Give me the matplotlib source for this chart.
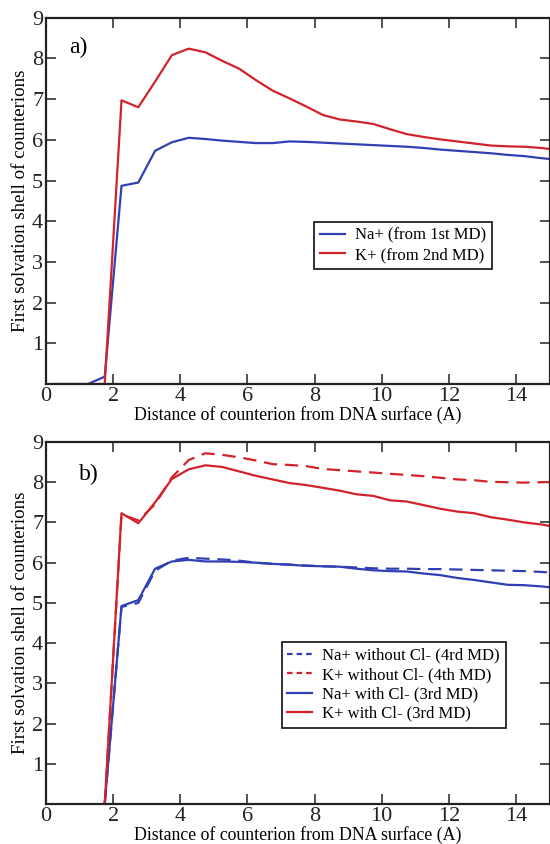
import matplotlib
matplotlib.use("Agg")
import matplotlib.pyplot as plt
import numpy as np

# Distance grid (A), 0.5 A bins
dist_a = [0.25, 0.75, 1.25, 1.75, 2.25, 2.75, 3.25, 3.75, 4.25, 4.75,
          5.25, 5.75, 6.25, 6.75, 7.25, 7.75, 8.25, 8.75, 9.25, 9.75,
          10.25, 10.75, 11.25, 11.75, 12.25, 12.75, 13.25, 13.75, 14.25, 14.75, 15.25]
na_1st = [0.0, 0.0, 0.0, 0.18, 4.87, 4.95, 5.73, 5.94, 6.05, 6.02,
          5.98, 5.95, 5.92, 5.92, 5.96, 5.95, 5.93, 5.91, 5.89, 5.87,
          5.85, 5.83, 5.80, 5.76, 5.73, 5.70, 5.67, 5.63, 5.60, 5.55, 5.51]
k_2nd = [0.0, 0.0, 0.0, 0.0, 6.97, 6.80, 7.43, 8.08, 8.24, 8.15,
         7.94, 7.75, 7.47, 7.21, 7.02, 6.82, 6.61, 6.50, 6.45, 6.39,
         6.26, 6.14, 6.07, 6.01, 5.96, 5.91, 5.86, 5.84, 5.83, 5.80, 5.75]

dist_b = [1.75, 2.25, 2.75, 3.25, 3.75, 4.25, 4.75, 5.25, 5.75, 6.25,
          6.75, 7.25, 7.75, 8.25, 8.75, 9.25, 9.75, 10.25, 10.75, 11.25,
          11.75, 12.25, 12.75, 13.25, 13.75, 14.25, 14.75, 15.25]
na_no_cl = [0.0, 4.90, 5.00, 5.80, 6.05, 6.12, 6.10, 6.08, 6.05, 6.00,
            5.97, 5.95, 5.93, 5.91, 5.90, 5.88, 5.86, 5.85, 5.85, 5.84,
            5.84, 5.83, 5.82, 5.81, 5.80, 5.79, 5.77, 5.74]
k_no_cl = [0.0, 7.20, 7.05, 7.45, 8.12, 8.55, 8.72, 8.68, 8.62, 8.54,
           8.45, 8.43, 8.40, 8.33, 8.30, 8.27, 8.24, 8.21, 8.18, 8.15,
           8.11, 8.07, 8.05, 8.01, 8.00, 7.99, 8.00, 8.01]
na_cl = [0.0, 4.92, 5.07, 5.85, 6.03, 6.07, 6.03, 6.03, 6.02, 6.00,
         5.97, 5.95, 5.92, 5.91, 5.90, 5.85, 5.81, 5.79, 5.78, 5.73,
         5.69, 5.62, 5.57, 5.51, 5.45, 5.44, 5.41, 5.37]
k_cl = [0.0, 7.23, 6.98, 7.50, 8.08, 8.32, 8.42, 8.38, 8.27, 8.16,
        8.07, 7.98, 7.93, 7.86, 7.79, 7.70, 7.66, 7.55, 7.52, 7.43,
        7.34, 7.27, 7.23, 7.13, 7.07, 7.00, 6.95, 6.88]

xticks = [0, 2, 4, 6, 8, 10, 12, 14]
yticks = [1, 2, 3, 4, 5, 6, 7, 8, 9]

BLUE = "#3040b4"
RED = "#d2232a"
DASH = (6, 3.5)

plt.rcParams["font.family"] = ["Liberation Serif", "DejaVu Serif"]

fig = plt.figure(figsize=(5.5, 8.44), dpi=100)
ax_a = fig.add_axes([0.0836, 0.545, 0.9155, 0.434])
ax_b = fig.add_axes([0.0836, 0.0474, 0.9155, 0.4289])


def style_axes(ax, tag, tag_xy):
    ax.set_xlim(0, 15)
    ax.set_ylim(0, 9)
    ax.set_xticks(xticks)
    ax.set_yticks(yticks)
    ax.tick_params(direction="in", length=7, width=1.1, top=True, right=True,
                   labelsize=16, pad=2, colors="#222222")
    for sp in ax.spines.values():
        sp.set_linewidth(1.6)
        sp.set_color("#222222")
    ax.set_xlabel("Distance of counterion from DNA surface (A)", fontsize=12.8, labelpad=0)
    ax.set_ylabel("First solvation shell of counterions", fontsize=13.6, labelpad=2)
    ax.text(tag_xy[0], tag_xy[1], tag, fontsize=17, ha="left", va="center")


# a) Na+ vs K+ from separate runs
ax_a.plot(dist_a, na_1st, color=BLUE, lw=1.6, label="Na+ (from 1st MD)")
ax_a.plot(dist_a, k_2nd, color=RED, lw=1.6, label="K+ (from 2nd MD)")
style_axes(ax_a, "a)", (0.68, 8.27))
ax_a.legend(loc="upper left", bbox_to_anchor=(0.532, 0.443), borderaxespad=0,
            fontsize=12, handlelength=1.5, handletextpad=0.6, fancybox=False,
            edgecolor="#222222", framealpha=1, borderpad=0.35, labelspacing=0.2)
ax_a.get_legend().get_frame().set_linewidth(1.3)

# b) with / without Cl- counterions
ax_b.plot(dist_b, na_no_cl, color=BLUE, lw=1.6, dashes=DASH, label="Na+ without Cl- (4rd MD)")
ax_b.plot(dist_b, k_no_cl, color=RED, lw=1.6, dashes=DASH, label="K+ without Cl- (4th MD)")
ax_b.plot(dist_b, na_cl, color=BLUE, lw=1.6, label="Na+ with Cl- (3rd MD)")
ax_b.plot(dist_b, k_cl, color=RED, lw=1.6, label="K+ with Cl- (3rd MD)")
style_axes(ax_b, "b)", (0.98, 8.2))
leg = ax_b.legend(loc="upper left", bbox_to_anchor=(0.468, 0.4475), borderaxespad=0,
                  fontsize=12, handlelength=1.5, handletextpad=0.6, fancybox=False,
                  edgecolor="#222222", framealpha=1, borderpad=0.35, labelspacing=0.2)
leg.get_frame().set_linewidth(1.3)
for h in leg.get_lines()[:2]:
    h.set_dashes((2.5, 1.8))

fig.savefig("out.png", dpi=100)
